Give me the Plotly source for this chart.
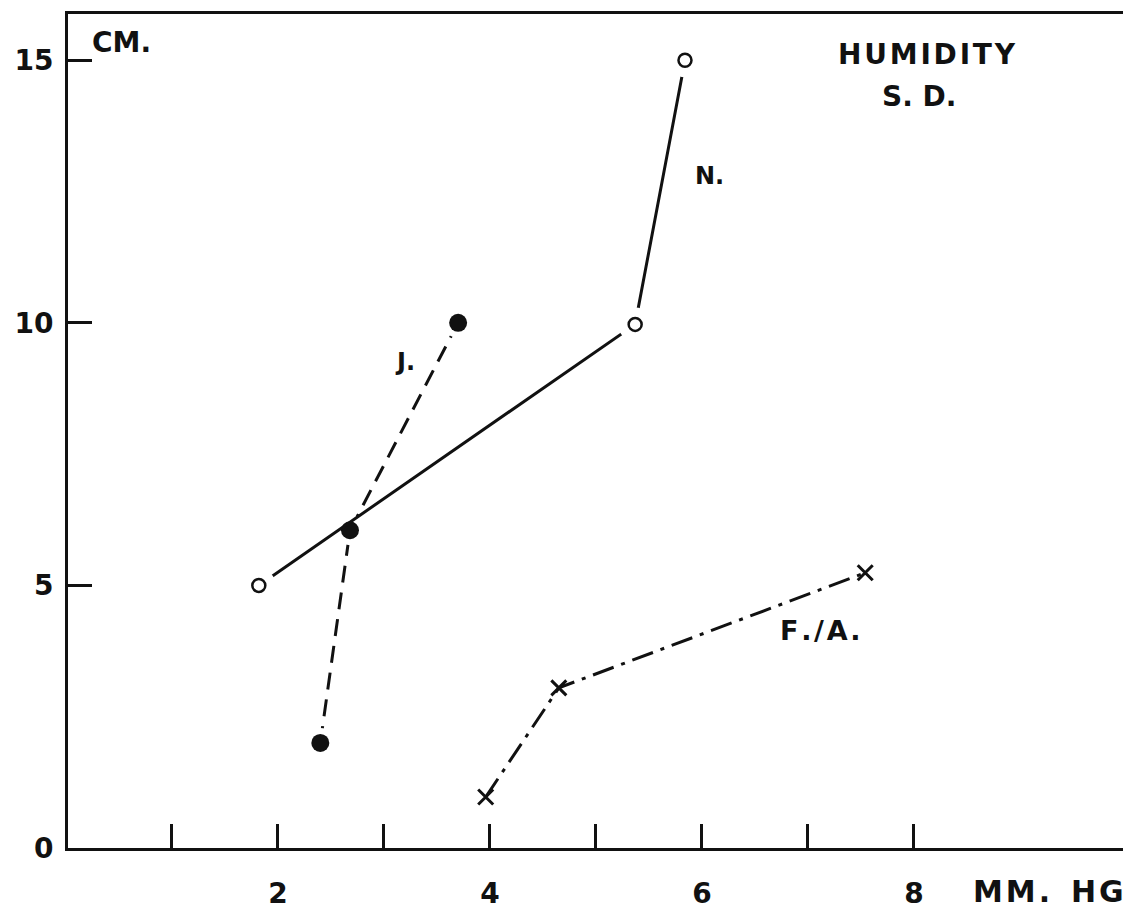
import plotly.graph_objects as go

# N. series (open circles, solid line)
n_x = [1.82, 5.37, 5.84]
n_y = [5.0, 9.97, 15.0]
# J. series (filled circles, dashed line)
j_x = [2.40, 2.68, 3.70]
j_y = [2.0, 6.05, 10.0]
# F./A. series (crosses, dash-dot line)
fa_x = [3.96, 4.65, 7.54]
fa_y = [0.97, 3.05, 5.24]

x_tickvals = [1, 2, 3, 4, 5, 6, 7, 8]
x_ticktext = ["", "2", "", "4", "", "6", "", "8"]
y_tickvals = [0, 5, 10, 15]
y_ticktext = ["0", "5", "10", "15"]

FONT = "DejaVu Sans"
BLACK = "#111111"
HS = "\u200a"  # hair space for letter spacing


def spaced(s, sp=HS):
    return sp.join(list(s))


fig = go.Figure()

# J dashed line + white halo + markers
fig.add_trace(go.Scatter(x=j_x, y=j_y, mode="lines",
                         line=dict(color=BLACK, width=3, dash="17px,10px"),
                         hoverinfo="skip", showlegend=False))
fig.add_trace(go.Scatter(x=j_x, y=j_y, mode="markers",
                         marker=dict(symbol="circle", size=30, color="white"),
                         hoverinfo="skip", showlegend=False))
fig.add_trace(go.Scatter(x=j_x, y=j_y, mode="markers",
                         marker=dict(symbol="circle", size=18, color=BLACK),
                         name="J.", showlegend=False))

# N solid line + halo + open circles
fig.add_trace(go.Scatter(x=n_x, y=n_y, mode="lines",
                         line=dict(color=BLACK, width=3),
                         hoverinfo="skip", showlegend=False))
fig.add_trace(go.Scatter(x=n_x, y=n_y, mode="markers",
                         marker=dict(symbol="circle", size=34, color="white"),
                         hoverinfo="skip", showlegend=False))
fig.add_trace(go.Scatter(x=n_x, y=n_y, mode="markers",
                         marker=dict(symbol="circle", size=13, color="white",
                                     line=dict(color=BLACK, width=2.5)),
                         name="N.", showlegend=False))

# F/A dash-dot line + crosses
fig.add_trace(go.Scatter(x=fa_x, y=fa_y, mode="lines",
                         line=dict(color=BLACK, width=3, dash="22px,8px,4px,8px"),
                         hoverinfo="skip", showlegend=False))
fig.add_trace(go.Scatter(x=fa_x, y=fa_y, mode="markers",
                         marker=dict(symbol="x-thin", size=15,
                                     line=dict(color=BLACK, width=3)),
                         name="F./A.", showlegend=False))

ann_font = dict(family=FONT, size=24, color=BLACK)
big_font = dict(family=FONT, size=28, color=BLACK)
annotations = [
    dict(x=8.12, y=15.1, text="<b>" + spaced("HUMIDITY") + "</b>", font=big_font,
         xref="x", yref="y"),
    dict(x=8.05, y=14.3, text="<b>S. D.</b>", font=big_font, xref="x", yref="y"),
    dict(x=6.07, y=12.8, text="<b>N.</b>", font=ann_font, xref="x", yref="y"),
    dict(x=3.2, y=9.25, text="<b>J.</b>", font=ann_font, xref="x", yref="y"),
    dict(x=7.11, y=4.15, text="<b>" + spaced("F./A.") + "</b>",
         font=dict(family=FONT, size=27, color=BLACK), xref="x", yref="y"),
    dict(x=0.52, y=15.33, text="<b>CM.</b>", font=big_font, xref="x", yref="y"),
    dict(x=0.927, y=-0.052,
         text="<b>" + spaced("MM.") + "  " + spaced("HG") + "</b>",
         font=dict(family=FONT, size=30, color=BLACK),
         xref="paper", yref="paper"),
]
for a in annotations:
    a.update(showarrow=False, xanchor="center", yanchor="middle")

fig.update_layout(
    width=1123, height=911,
    margin=dict(l=60, r=5, t=6, b=71),
    paper_bgcolor="white", plot_bgcolor="white",
    annotations=annotations,
    font=dict(family=FONT, color=BLACK),
)
fig.update_xaxes(range=[0.02, 10.0], tickvals=x_tickvals, ticktext=x_ticktext,
                 ticks="inside", ticklen=24, tickwidth=3, tickcolor=BLACK,
                 showline=True, linewidth=3, linecolor=BLACK, mirror=True,
                 showgrid=False, zeroline=False, automargin=False,
                 tickfont=dict(family=FONT, size=28, color=BLACK, weight="bold"),
                 ticklabelstandoff=18)
fig.update_yaxes(range=[0, 15.88], tickvals=y_tickvals, ticktext=y_ticktext,
                 ticks="inside", ticklen=24, tickwidth=3, tickcolor=BLACK,
                 showline=True, linewidth=3, linecolor=BLACK, mirror=True,
                 showgrid=False, zeroline=False, automargin=False,
                 tickfont=dict(family=FONT, size=28, color=BLACK, weight="bold"),
                 ticklabelstandoff=6)

fig.write_html("out.html")
